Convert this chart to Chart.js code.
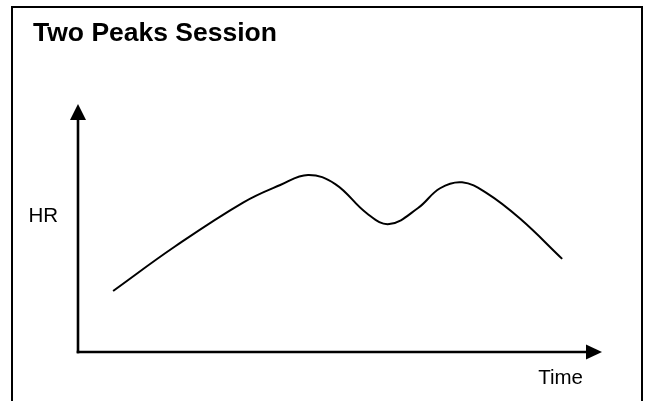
<!DOCTYPE html>
<html>
<head>
<meta charset="utf-8">
<script src="https://cdn.jsdelivr.net/npm/chart.js@4"></script>
<style>
  html, body { margin: 0; padding: 0; background: #ffffff; }
  #wrap { width: 645px; height: 401px; position: relative; }
</style>
</head>
<body>
<div id="wrap"><canvas id="c" width="645" height="401"></canvas></div>
<script>
// Conceptual session: time (0-100) vs heart rate (0-100, relative)
const chartTitle = "Two Peaks Session";
const xAxisLabel = "Time";
const yAxisLabel = "HR";
const timeValues = [6.7, 18.5, 31.5, 38.6, 43.9, 49.1, 55.1, 59.4, 64.9, 69.1, 73.3, 78.0, 84.4, 92.4];
const hrValues   = [24.7, 42.7, 60.5, 67.6, 71.7, 68.0, 56.2, 51.8, 58.3, 66.3, 68.7, 64.3, 53.9, 37.7];
const xRange = [0, 100];
const yRange = [0, 100];
const hrLabelValue = 56;

const points = timeValues.map((t, i) => ({ x: t, y: hrValues[i] }));

const FONT = "'Liberation Sans', Arial, sans-serif";

const decorPlugin = {
  id: 'decor',
  beforeDraw(chart) {
    const ctx = chart.ctx;
    ctx.save();
    ctx.fillStyle = '#ffffff';
    ctx.fillRect(0, 0, chart.width, chart.height);
    // frame
    ctx.strokeStyle = '#000000';
    ctx.lineWidth = 2;
    ctx.strokeRect(12, 7, 630, 420);
    ctx.restore();
  },
  afterDatasetsDraw(chart) {
    const ctx = chart.ctx;
    const xs = chart.scales.x, ys = chart.scales.y;
    const x0 = xs.getPixelForValue(xRange[0]);
    const x1 = xs.getPixelForValue(xRange[1]);
    const y0 = ys.getPixelForValue(yRange[0]);
    const y1 = ys.getPixelForValue(yRange[1]);
    ctx.save();
    ctx.strokeStyle = '#000000';
    ctx.fillStyle = '#000000';
    ctx.lineWidth = 2.6;
    ctx.lineCap = 'butt';
    // y axis
    ctx.beginPath();
    ctx.moveTo(x0, y0 + 1.3);
    ctx.lineTo(x0, y1 + 14);
    ctx.stroke();
    ctx.beginPath();
    ctx.moveTo(x0, y1 - 1);
    ctx.lineTo(x0 - 8, y1 + 15);
    ctx.lineTo(x0 + 8, y1 + 15);
    ctx.closePath();
    ctx.fill();
    // x axis
    ctx.beginPath();
    ctx.moveTo(x0 - 1.3, y0);
    ctx.lineTo(x1 - 14, y0);
    ctx.stroke();
    ctx.beginPath();
    ctx.moveTo(x1, y0);
    ctx.lineTo(x1 - 16, y0 - 7.5);
    ctx.lineTo(x1 - 16, y0 + 7.5);
    ctx.closePath();
    ctx.fill();
    // labels
    ctx.font = '20.5px ' + FONT;
    ctx.textBaseline = 'alphabetic';
    ctx.textAlign = 'right';
    ctx.fillText(yAxisLabel, x0 - 20, ys.getPixelForValue(hrLabelValue) + 8);
    ctx.fillText(xAxisLabel, x1 - 19, y0 + 31.5);
    ctx.restore();
  }
};

new Chart(document.getElementById('c'), {
  type: 'line',
  data: {
    datasets: [{
      data: points,
      borderColor: '#000000',
      borderWidth: 2,
      pointRadius: 0,
      fill: false,
      tension: 0.4
    }]
  },
  options: {
    responsive: false,
    animation: false,
    devicePixelRatio: 1,
    layout: { padding: { left: 33, right: 43, top: 8, bottom: 49 } },
    plugins: {
      legend: { display: false },
      tooltip: { enabled: false },
      title: {
        display: true,
        text: chartTitle,
        align: 'start',
        color: '#000000',
        font: { family: FONT, size: 26.5, weight: 'bold', lineHeight: 1.2 },
        padding: { top: 10.1, bottom: 55.1 }
      }
    },
    scales: {
      x: {
        type: 'linear',
        min: xRange[0],
        max: xRange[1],
        display: false
      },
      y: {
        type: 'linear',
        min: yRange[0],
        max: yRange[1],
        display: true,
        ticks: { display: false },
        grid: { display: false, drawTicks: false },
        border: { display: false },
        afterFit: (scale) => { scale.width = 45; }
      }
    }
  },
  plugins: [decorPlugin]
});
</script>
</body>
</html>
